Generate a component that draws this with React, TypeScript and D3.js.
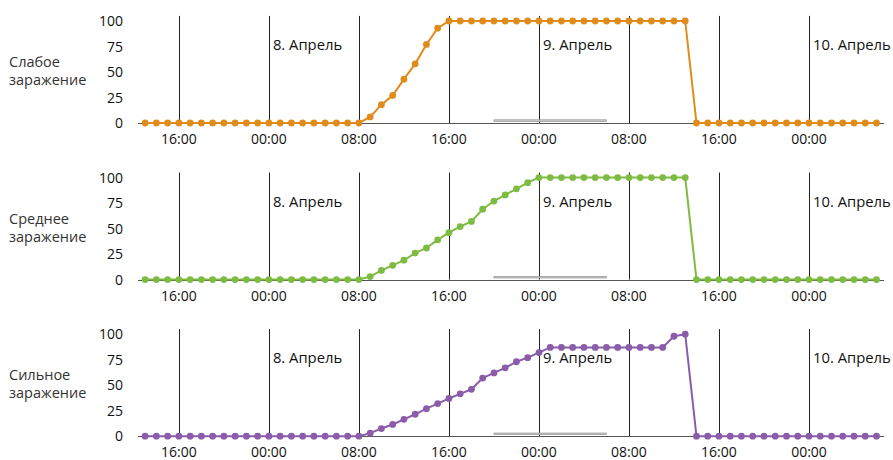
import React from "react";
import * as d3 from "d3";

const startTime = new Date(2024, 3, 7, 13, 0);
const domainStart = new Date(2024, 3, 7, 12, 22);
const domainEnd = new Date(2024, 3, 10, 6, 40);
const nightStart = new Date(2024, 3, 8, 20, 0);
const nightEnd = new Date(2024, 3, 9, 6, 0);

const dayLabels = [
  { date: new Date(2024, 3, 8, 0, 0), text: "8. Апрель" },
  { date: new Date(2024, 3, 9, 0, 0), text: "9. Апрель" },
  { date: new Date(2024, 3, 10, 0, 0), text: "10. Апрель" },
];

const yTicks = [0, 25, 50, 75, 100];

const zeros = (n: number) => Array(n).fill(0);
const fill = (n: number, v: number) => Array(n).fill(v);

// hourly values, index 0 = 7 Apr 13:00, index 65 = 10 Apr 06:00
const weakValues: number[] = [
  ...zeros(20),
  6, 18, 27, 43, 58, 77, 93,
  ...fill(22, 100),
  ...zeros(17),
];
const mediumValues: number[] = [
  ...zeros(20),
  3, 9, 14, 19, 26, 31, 39, 46, 52, 57, 69, 77, 83, 89, 95,
  ...fill(14, 100),
  ...zeros(17),
];
const strongValues: number[] = [
  ...zeros(20),
  3, 7.5, 11.5, 16.5, 21.5, 27, 32, 37, 41.5, 46, 57, 62, 67, 73, 77, 82,
  ...fill(11, 87),
  98, 100,
  ...zeros(17),
];

const panels = [
  { title: ["Слабое", "заражение"], values: weakValues, color: "#E08C1C" },
  { title: ["Среднее", "заражение"], values: mediumValues, color: "#7DBB42" },
  { title: ["Сильное", "заражение"], values: strongValues, color: "#8A5CAA" },
];

const FONT = "'Open Sans', 'Noto Sans', sans-serif";

function Panel({ idx, panel, x }: { idx: number; panel: any; x: d3.ScaleTime<number, number> }) {
  const base = 123 + idx * 156.6;
  const y = d3.scaleLinear().domain([0, 100]).range([base, base - 102]);
  const data = panel.values.map((v: number, i: number) => ({
    t: d3.timeHour.offset(startTime, i),
    v,
  }));
  const line = d3
    .line<any>()
    .x((d) => x(d.t))
    .y((d) => y(d.v));
  const ticks = x.ticks(d3.timeHour.every(8) as any);
  const fmt = d3.timeFormat("%H:%M");
  const [x0, x1] = x.range();
  const px = (v: number) => Math.round(v) + 0.5;
  return (
    <g>
      {ticks.map((t, i) => (
        <line key={"v" + i} x1={px(x(t))} x2={px(x(t))} y1={y(105)} y2={y(0)} stroke="#222" strokeWidth={1} />
      ))}
      <line x1={x0} x2={x1} y1={px(y(0))} y2={px(y(0))} stroke="#555" strokeWidth={1} />
      <rect
        x={x(nightStart)}
        width={x(nightEnd) - x(nightStart)}
        y={y(0) - 3.2}
        height={1.6}
        fill="#c8c8c8"
        stroke="#8a8a8a"
        strokeWidth={0.6}
      />
      <path d={line(data) || ""} fill="none" stroke={panel.color} strokeWidth={2} />
      {data.map((d: any, i: number) => (
        <circle key={"c" + i} cx={x(d.t)} cy={y(d.v)} r={3.4} fill={panel.color} />
      ))}
      {yTicks.map((v) => (
        <text key={"y" + v} x={123} y={y(v)} dy="0.36em" textAnchor="end" fontSize={14} fill="#111" fontFamily={FONT}>
          {v}
        </text>
      ))}
      {ticks.map((t, i) => (
        <text key={"xt" + i} x={x(t)} y={y(0) + 21} textAnchor="middle" fontSize={14} fill="#111" fontFamily={FONT}>
          {fmt(t)}
        </text>
      ))}
      {dayLabels.map((d, i) => (
        <text key={"d" + i} x={x(d.date) + 4} y={base - 73} fontSize={14.8} fill="#111" fontFamily={FONT}>
          {d.text}
        </text>
      ))}
      <text x={9} y={base - 56} fontSize={14.5} fill="#333" fontFamily={FONT}>
        {panel.title[0]}
      </text>
      <text x={9} y={base - 38} fontSize={14.5} fill="#333" fontFamily={FONT}>
        {panel.title[1]}
      </text>
    </g>
  );
}

export default function App() {
  const x = d3.scaleTime().domain([domainStart, domainEnd]).range([138, 884]);
  return (
    <svg
      width={893}
      height={460}
      style={{ display: "block", position: "absolute", left: 0, top: 0, overflow: "visible" }}
    >
      <rect x={0} y={0} width={893} height={460} fill="#fff" />
      {panels.map((p, i) => (
        <Panel key={i} idx={i} panel={p} x={x} />
      ))}
    </svg>
  );
}
